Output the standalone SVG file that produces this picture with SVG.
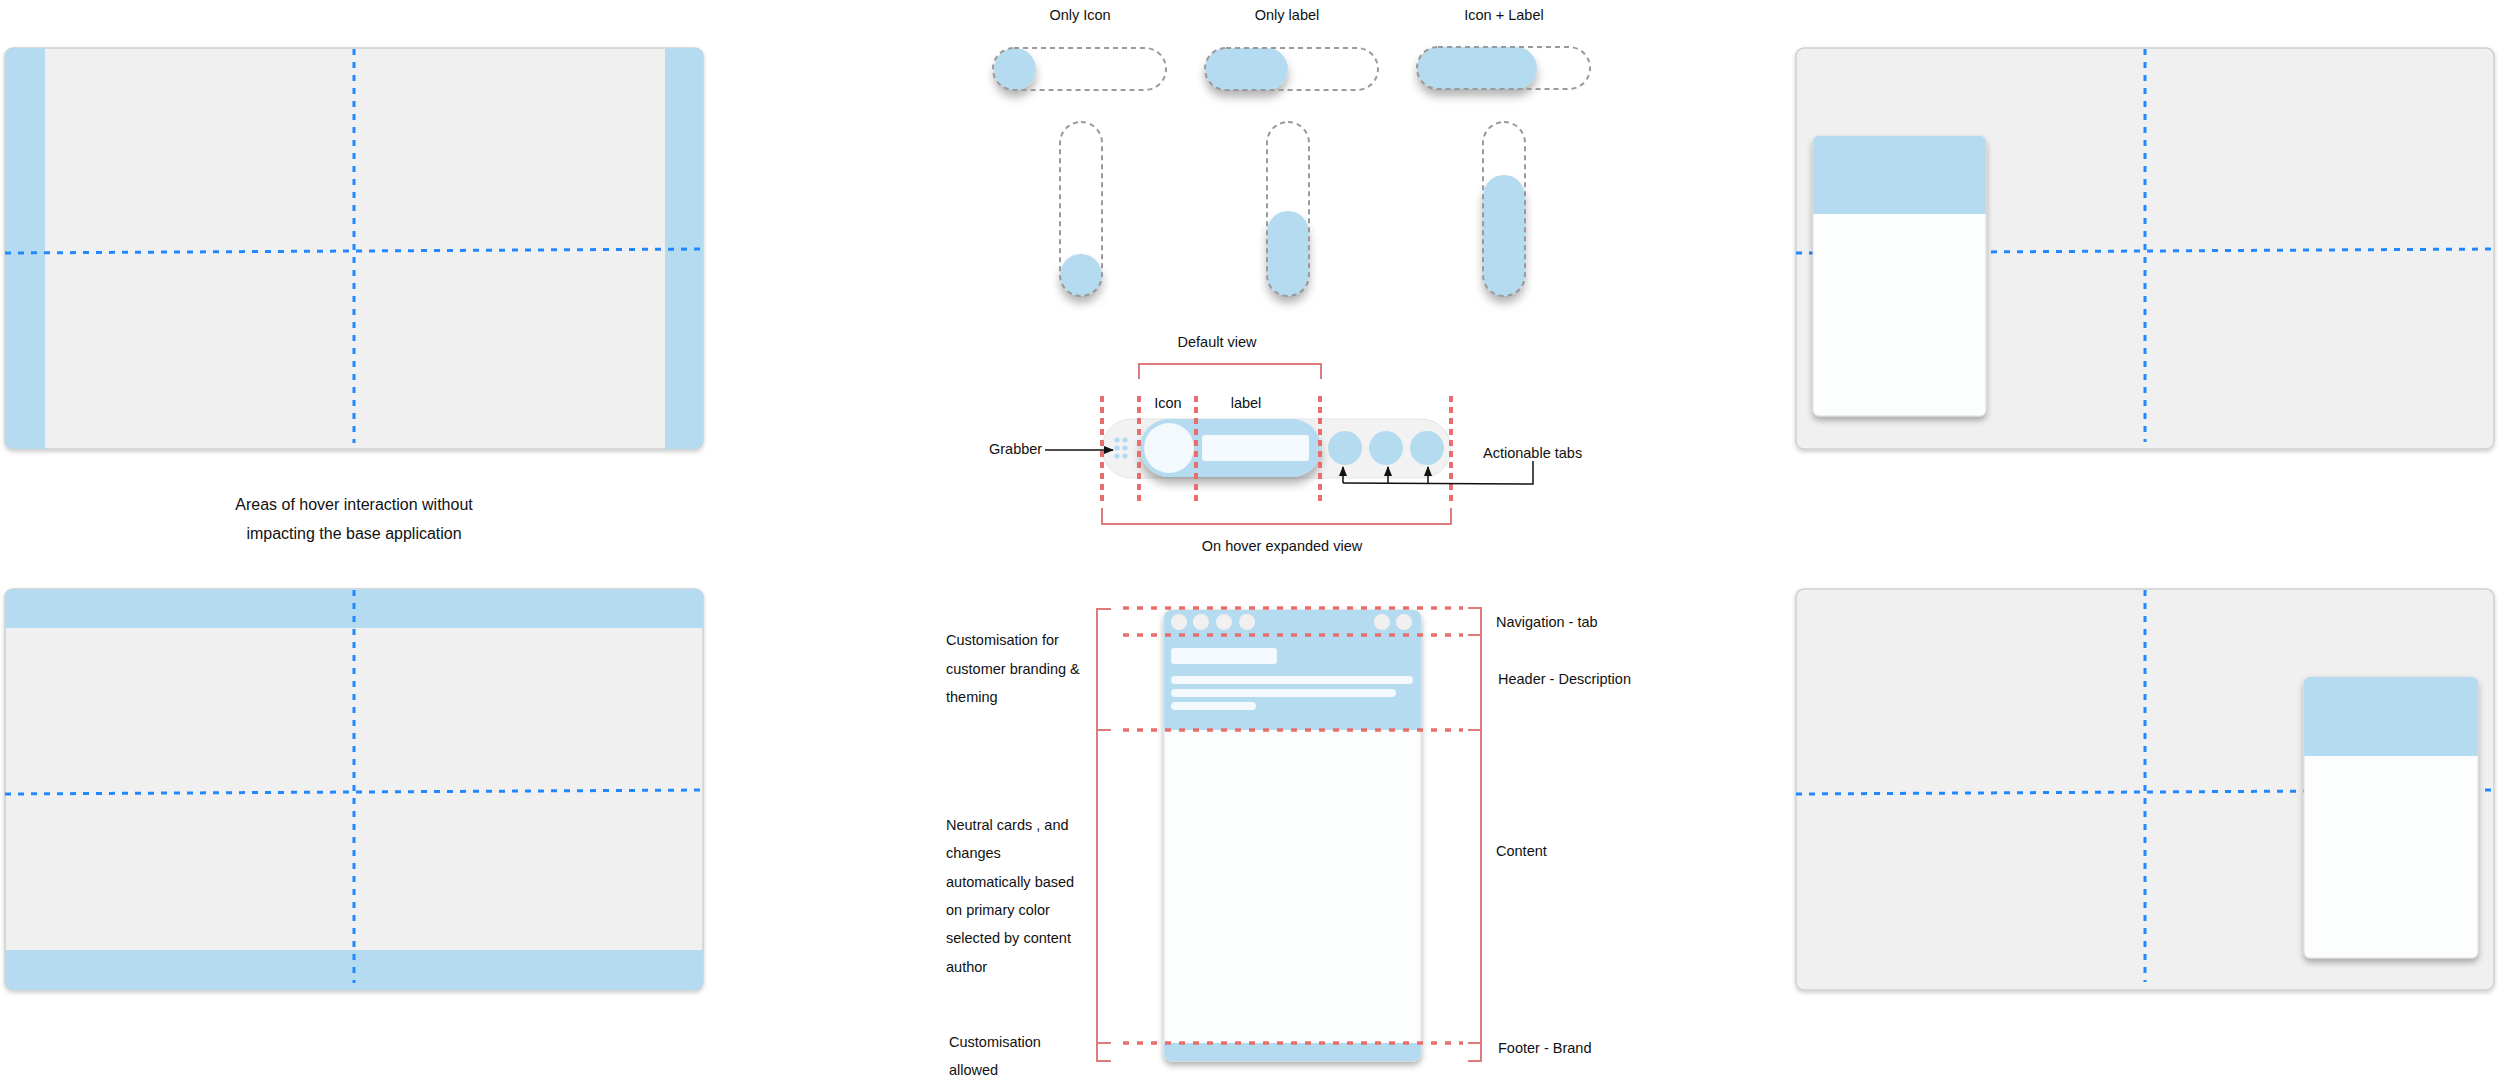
<svg xmlns="http://www.w3.org/2000/svg" width="2500" height="1084" viewBox="0 0 2500 1084">
<style>
.t{font-family:"Liberation Sans",Arial,sans-serif;font-size:14.5px;fill:#111}
.c{font-size:16px}
.m{text-anchor:middle}
.panel{fill:#f0f0f0;stroke:#cfcfcf;stroke-width:1.5}
.blue{fill:#b5dbf1}
.bd{fill:none;stroke:#2188ff;stroke-width:3;stroke-dasharray:6 7}
.trk{fill:none;stroke:#9a9a9a;stroke-width:2;stroke-dasharray:5 4}
.rd{fill:none;stroke:#e86d6d;stroke-width:4;stroke-dasharray:6 5}
.rh{fill:none;stroke:#e86d6d;stroke-width:3.5;stroke-dasharray:6 8}
.br{fill:none;stroke:#e07b7b;stroke-width:2}
.ln{fill:none;stroke:#111;stroke-width:1.5}
.card{fill:#fcfdfd;stroke:#dcdcdc;stroke-width:1}
.wh{fill:#f3f9fd}
.nav{fill:#f0f0f0}
</style>
<defs>
<filter id="sh1" x="-5%" y="-5%" width="110%" height="115%"><feDropShadow dx="0" dy="2" stdDeviation="2" flood-color="#000" flood-opacity="0.2"/></filter>
<filter id="sh2" x="-20%" y="-10%" width="140%" height="130%"><feDropShadow dx="0" dy="4" stdDeviation="3" flood-color="#000" flood-opacity="0.3"/></filter>
<filter id="sh3" x="-30%" y="-30%" width="160%" height="200%"><feDropShadow dx="0" dy="7" stdDeviation="5" flood-color="#000" flood-opacity="0.3"/></filter>
<clipPath id="cTL"><rect x="5" y="48" width="698" height="401" rx="8"/></clipPath>
<clipPath id="cBL"><rect x="5" y="589" width="698" height="401" rx="8"/></clipPath>
<marker id="ar" viewBox="0 0 10 10" refX="9" refY="5" markerWidth="7" markerHeight="7" orient="auto-start-reverse"><path d="M0,1 L10,5 L0,9 Z" fill="#111"/></marker>
</defs>
<rect width="2500" height="1084" fill="#fff"/>

<g id="panel-left-top">
<rect class="panel" x="5" y="48" width="698" height="401" rx="8" filter="url(#sh1)"/>
<g clip-path="url(#cTL)"><rect class="blue" x="5" y="48" width="40" height="401"/><rect class="blue" x="665" y="48" width="38" height="401"/></g>
<line class="bd" x1="354" y1="49" x2="354" y2="443"/>
<line class="bd" x1="5" y1="253" x2="703" y2="249"/>
</g>

<g id="caption-hover">
<text class="t c m" x="354" y="510">Areas of hover interaction without</text>
<text class="t c m" x="354" y="539">impacting the base application</text>
</g>

<g id="panel-left-bottom">
<rect class="panel" x="5" y="589" width="698" height="401" rx="8" filter="url(#sh1)"/>
<g clip-path="url(#cBL)"><rect class="blue" x="5" y="589" width="698" height="39"/><rect class="blue" x="5" y="950" width="698" height="40"/></g>
<line class="bd" x1="354" y1="590" x2="354" y2="983"/>
<line class="bd" x1="5" y1="794" x2="703" y2="790"/>
</g>

<g id="panel-right-top">
<rect class="panel" x="1796" y="48" width="698" height="401" rx="8" filter="url(#sh1)"/>
<line class="bd" x1="2145" y1="49" x2="2145" y2="442"/>
<line class="bd" x1="1796" y1="253" x2="2494" y2="249"/>
<g filter="url(#sh2)">
<rect class="card" x="1813" y="136" width="173" height="280" rx="6"/>
<path class="blue" d="M1813,214 V142 a6,6 0 0 1 6,-6 H1980 a6,6 0 0 1 6,6 V214 Z"/>
</g>
</g>

<g id="panel-right-bottom">
<rect class="panel" x="1796" y="589" width="698" height="401" rx="8" filter="url(#sh1)"/>
<line class="bd" x1="2145" y1="590" x2="2145" y2="982"/>
<line class="bd" x1="1796" y1="794" x2="2494" y2="790"/>
<g filter="url(#sh2)">
<rect class="card" x="2304" y="677" width="174" height="281" rx="6"/>
<path class="blue" d="M2304,756 V683 a6,6 0 0 1 6,-6 H2472 a6,6 0 0 1 6,6 V756 Z"/>
</g>
</g>

<g id="toggle-only-icon">
<text class="t m" x="1080" y="20">Only Icon</text>
<circle class="blue" cx="1015" cy="69" r="21" filter="url(#sh3)"/>
<rect class="trk" x="993" y="48" width="173" height="42" rx="21"/>
<circle class="blue" cx="1081" cy="275" r="21" filter="url(#sh3)"/>
<rect class="trk" x="1060" y="122" width="42" height="174" rx="21"/>
</g>

<g id="toggle-only-label">
<text class="t m" x="1287" y="20">Only label</text>
<rect class="blue" x="1205" y="48" width="83" height="42" rx="21" filter="url(#sh3)"/>
<rect class="trk" x="1205" y="48" width="173" height="42" rx="21"/>
<rect class="blue" x="1267" y="211" width="42" height="85" rx="21" filter="url(#sh3)"/>
<rect class="trk" x="1267" y="122" width="42" height="174" rx="21"/>
</g>

<g id="toggle-icon-label">
<text class="t m" x="1504" y="20">Icon + Label</text>
<rect class="blue" x="1417" y="47" width="120" height="42" rx="21" filter="url(#sh3)"/>
<rect class="trk" x="1417" y="47" width="173" height="42" rx="21"/>
<rect class="blue" x="1483" y="175" width="42" height="121" rx="21" filter="url(#sh3)"/>
<rect class="trk" x="1483" y="122" width="42" height="174" rx="21"/>
</g>

<g id="nav-pill">
<rect x="1102" y="419" width="349" height="59" rx="29.5" fill="#f2f2f2" stroke="#e4e4e4" stroke-width="1"/>
<g fill="#b5dbf1"><circle cx="1117" cy="440" r="2.6"/><circle cx="1125" cy="440" r="2.6"/><circle cx="1117" cy="448" r="2.6"/><circle cx="1125" cy="448" r="2.6"/><circle cx="1117" cy="456" r="2.6"/><circle cx="1125" cy="456" r="2.6"/></g>
<rect class="blue" x="1140" y="419" width="181" height="58" rx="29" filter="url(#sh3)"/>
<circle class="wh" cx="1169" cy="448" r="25"/>
<rect class="wh" x="1202" y="435" width="107" height="26" rx="3"/>
<circle class="blue" cx="1345" cy="448" r="17"/>
<circle class="blue" cx="1386" cy="448" r="17"/>
<circle class="blue" cx="1427" cy="448" r="17"/>
<line class="rd" x1="1102" y1="396" x2="1102" y2="503"/>
<line class="rd" x1="1139" y1="396" x2="1139" y2="503"/>
<line class="rd" x1="1196" y1="396" x2="1196" y2="503"/>
<line class="rd" x1="1320" y1="396" x2="1320" y2="503"/>
<line class="rd" x1="1451" y1="396" x2="1451" y2="503"/>
<text class="t m" x="1217" y="347">Default view</text>
<text class="t m" x="1168" y="408">Icon</text>
<text class="t m" x="1246" y="408">label</text>
<text class="t m" x="1282" y="551">On hover expanded view</text>
<text class="t" x="989" y="454">Grabber</text>
<text class="t" x="1483" y="458">Actionable tabs</text>
</g>

<g id="phone">
<g filter="url(#sh2)">
<rect class="card" x="1164" y="610" width="257" height="451" rx="8"/>
<path class="blue" d="M1164,730 V618 a8,8 0 0 1 8,-8 H1413 a8,8 0 0 1 8,8 V730 Z"/>
<path class="blue" d="M1164,1043 H1421 V1053 a8,8 0 0 1 -8,8 H1172 a8,8 0 0 1 -8,-8 Z"/>
</g>
<circle class="nav" cx="1179" cy="622" r="8"/><circle class="nav" cx="1201" cy="622" r="8"/><circle class="nav" cx="1224" cy="622" r="8"/><circle class="nav" cx="1247" cy="622" r="8"/><circle class="nav" cx="1382" cy="622" r="8"/><circle class="nav" cx="1404" cy="622" r="8"/>
<rect class="wh" x="1171" y="648" width="106" height="16" rx="3"/>
<rect class="wh" x="1171" y="676" width="242" height="8" rx="4"/>
<rect class="wh" x="1171" y="689" width="225" height="8" rx="4"/>
<rect class="wh" x="1171" y="702" width="85" height="8" rx="4"/>
<line class="rh" x1="1123" y1="608" x2="1463" y2="608"/>
<line class="rh" x1="1123" y1="635" x2="1463" y2="635"/>
<line class="rh" x1="1123" y1="730" x2="1463" y2="730"/>
<line class="rh" x1="1123" y1="1043" x2="1463" y2="1043"/>
<text class="t" x="946" y="645">Customisation for</text>
<text class="t" x="946" y="674">customer branding &amp;</text>
<text class="t" x="946" y="702">theming</text>
<text class="t" x="946" y="830">Neutral cards , and</text>
<text class="t" x="946" y="858">changes</text>
<text class="t" x="946" y="887">automatically based</text>
<text class="t" x="946" y="915">on primary color</text>
<text class="t" x="946" y="943">selected by content</text>
<text class="t" x="946" y="972">author</text>
<text class="t" x="949" y="1047">Customisation</text>
<text class="t" x="949" y="1075">allowed</text>
<text class="t" x="1496" y="627">Navigation - tab</text>
<text class="t" x="1498" y="684">Header - Description</text>
<text class="t" x="1496" y="856">Content</text>
<text class="t" x="1498" y="1053">Footer - Brand</text>
</g>

<g id="connectors">
<path class="br" d="M1139,379 V364 H1321 V379"/>
<path class="br" d="M1102,508 V524 H1451 V508"/>
<path class="br" d="M1111,609 H1097 V1061 H1111 M1097,730 H1111 M1097,1043 H1111"/>
<path class="br" d="M1468,608 H1481 V1061 H1468 M1468,635 H1481 M1468,730 H1481 M1468,1043 H1481"/>
<line class="ln" x1="1045" y1="450" x2="1113" y2="450" marker-end="url(#ar)"/>
<path class="ln" d="M1533,461 V484 L1343,483"/>
<line class="ln" x1="1343" y1="483" x2="1343" y2="467" marker-end="url(#ar)"/>
<line class="ln" x1="1388" y1="483" x2="1388" y2="467" marker-end="url(#ar)"/>
<line class="ln" x1="1428" y1="484" x2="1428" y2="467" marker-end="url(#ar)"/>
</g>
</svg>
